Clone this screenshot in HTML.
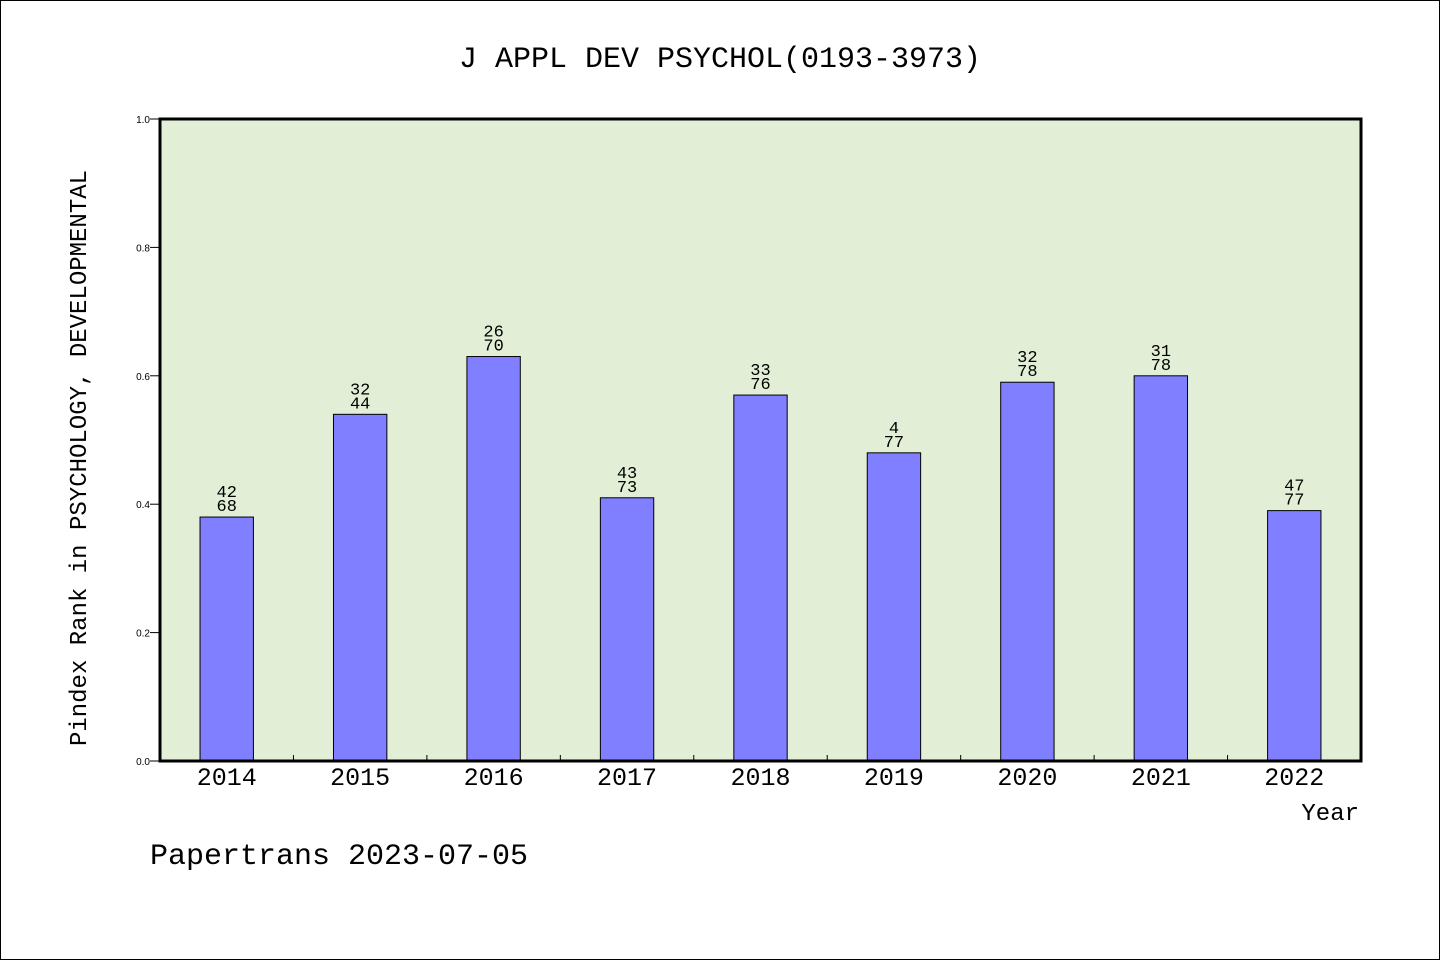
<!DOCTYPE html>
<html><head><meta charset="utf-8"><style>
body{margin:0;background:#fff}
svg{display:block}
text{font-family:"WenQuanYi Zen Hei","Liberation Mono",monospace;fill:#000}
</style></head><body>
<svg id="c" width="1440" height="960">
<rect x="0.5" y="0.5" width="1439" height="959" fill="#fff" stroke="#000"/>
<text x="720" y="67" font-size="30" text-anchor="middle">J APPL DEV PSYCHOL(0193-3973)</text>
<rect x="160" y="119" width="1201" height="642" fill="#e2efd6"/>
<g id="bars"></g>
<g id="ticks"></g>
<rect x="160" y="119" width="1201" height="642" fill="none" stroke="#000" stroke-width="3"/>
<text transform="translate(86,458) rotate(-90)" font-size="24" text-anchor="middle">Pindex Rank in PSYCHOLOGY, DEVELOPMENTAL</text>
<text x="1359" y="820" font-size="24" text-anchor="end">Year</text>
<text x="150" y="864" font-size="30">Papertrans 2023-07-05</text>
</svg>
<script>
const categories=["2014","2015","2016","2017","2018","2019","2020","2021","2022"];
const values=[0.38,0.54,0.63,0.41,0.57,0.48,0.59,0.60,0.39];
const ranks=["42","32","26","43","33","4","32","31","47"];
const totals=["68","44","70","73","76","77","78","78","77"];
const yTicks=[0,0.2,0.4,0.6,0.8,1.0];
const X0=160,W=1201,Y0=761,H=642;
const NS="http://www.w3.org/2000/svg";
const bw=W/categories.length;
const y=v=>Y0-H*v;
const xc=i=>X0+bw*(i+0.5);
function mk(t,a,p,txt){const e=document.createElementNS(NS,t);for(const k in a)e.setAttribute(k,a[k]);if(txt!=null)e.textContent=txt;p.appendChild(e);return e;}
const bars=document.getElementById('bars'),ticks=document.getElementById('ticks');
categories.forEach((c,i)=>{
 const w=bw*0.4;
 const r=mk('rect',{x:xc(i)-w/2,y:y(values[i]),width:w,height:Y0-y(values[i]),fill:'#7f7fff',stroke:'#000','stroke-width':1},bars);
 
 
 const t1=mk('text',{x:xc(i),y:y(values[i])-20,'font-size':17,'text-anchor':'middle'},bars,ranks[i]);
 
 
 const t2=mk('text',{x:xc(i),y:y(values[i])-6,'font-size':17,'text-anchor':'middle'},bars,totals[i]);
 
 
 const l=mk('text',{x:xc(i),y:785,'font-size':25,'text-anchor':'middle'},ticks,c);
 
 
 if(i>0){const tk=mk('line',{x1:X0+bw*i,x2:X0+bw*i,y1:Y0,y2:Y0-6,stroke:'#000'},ticks);
 
 }
});
yTicks.forEach(v=>{
 const tk=mk('line',{x1:X0-10,x2:X0,y1:y(v),y2:y(v),stroke:'#000'},ticks);
 
 
 const l=mk('text',{x:X0-10,y:y(v)+4,'font-size':10,'text-anchor':'end',style:'font-family:"Liberation Sans",sans-serif'},ticks,v.toFixed(1));
 
 
});
</script>
</body></html>
